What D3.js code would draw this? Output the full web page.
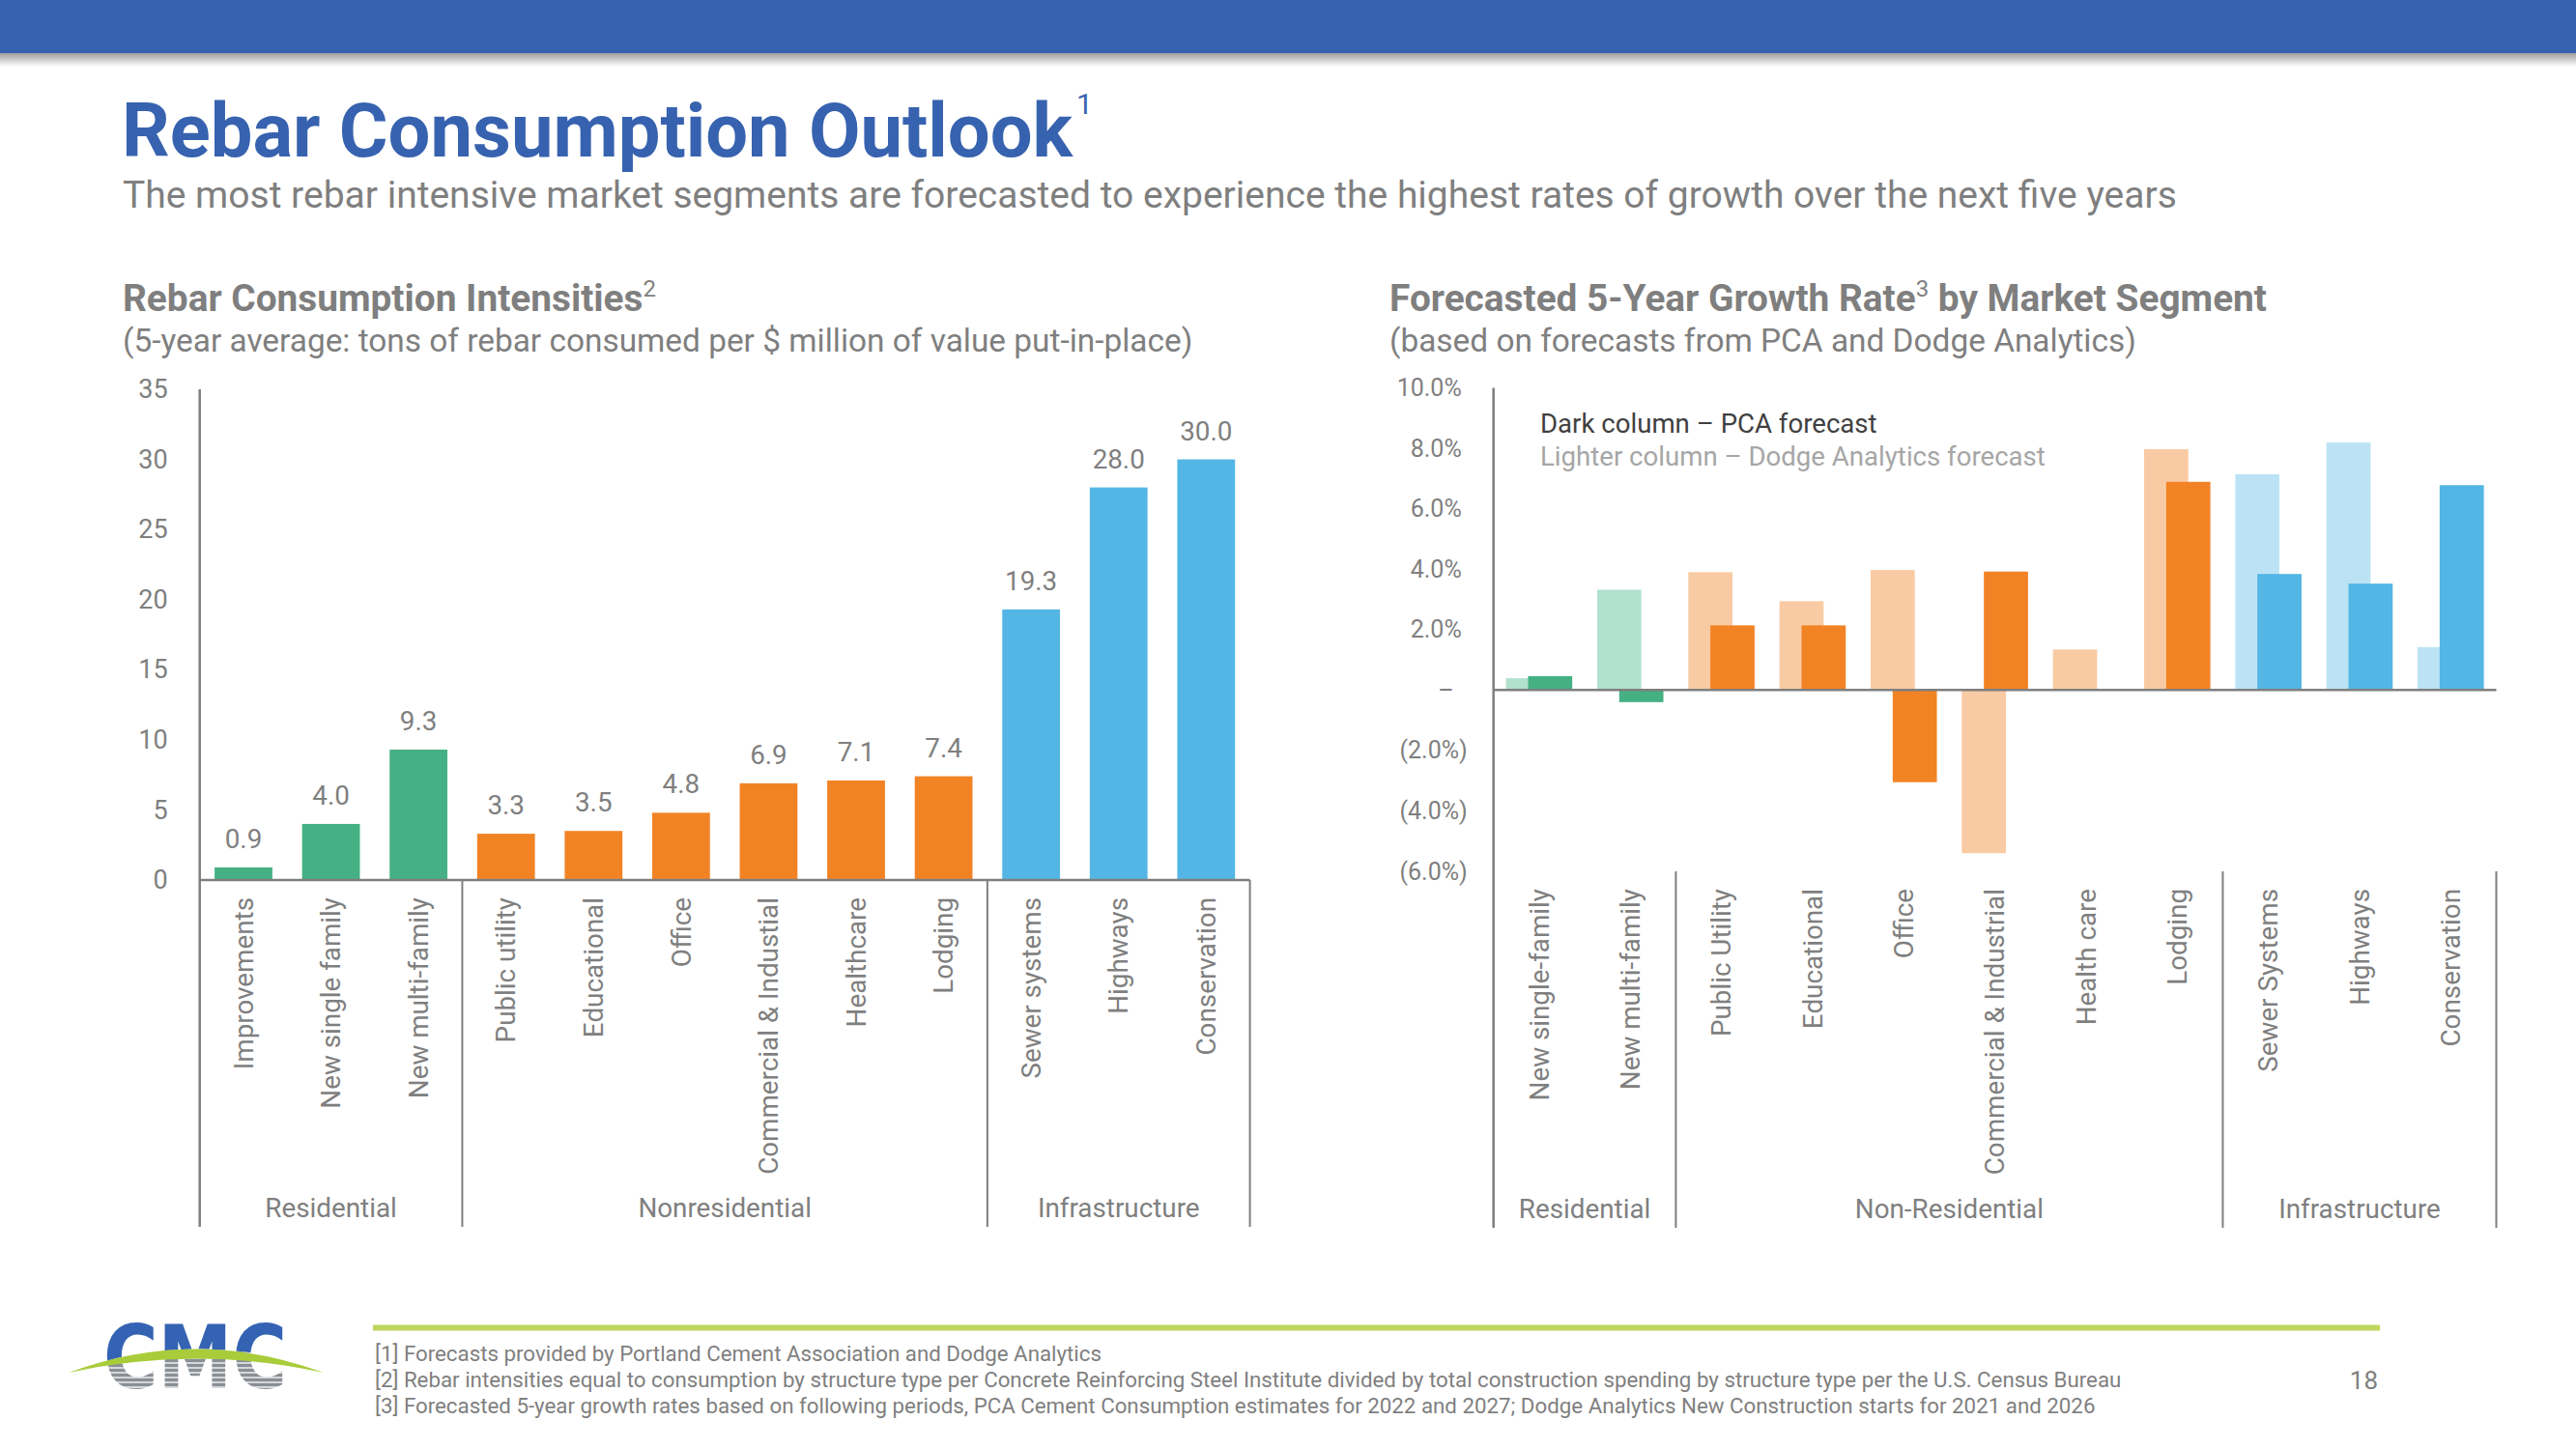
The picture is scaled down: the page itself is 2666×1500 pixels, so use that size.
<!DOCTYPE html>
<html>
<head>
<meta charset="utf-8">
<script src="https://cdn.jsdelivr.net/npm/d3@7"></script>
<style>
  html, body { margin: 0; padding: 0; background: #fff; }
  svg { display: block; font-family: Roboto, "Open Sans", sans-serif; }
</style>
</head>
<body>
<svg id="chart" width="2666" height="1500"></svg>
<script>
// ---------------- DATA ----------------
const leftCategories = ["Improvements", "New single family", "New multi-family", "Public utility", "Educational", "Office", "Commercial & Industial", "Healthcare", "Lodging", "Sewer systems", "Highways", "Conservation"];
const leftCategoryGroups = ["Residential", "Residential", "Residential", "Nonresidential", "Nonresidential", "Nonresidential", "Nonresidential", "Nonresidential", "Nonresidential", "Infrastructure", "Infrastructure", "Infrastructure"];
const leftGroupNames = ["Residential", "Nonresidential", "Infrastructure"];
const leftValues = [0.9, 4.0, 9.3, 3.3, 3.5, 4.8, 6.9, 7.1, 7.4, 19.3, 28.0, 30.0];
const leftYTicks = [0, 5, 10, 15, 20, 25, 30, 35];

const rightCategories = ["New single-family", "New multi-family", "Public Utility", "Educational", "Office", "Commercial & Industrial", "Health care", "Lodging", "Sewer Systems", "Highways", "Conservation"];
const rightCategoryGroups = ["Residential", "Residential", "Non-Residential", "Non-Residential", "Non-Residential", "Non-Residential", "Non-Residential", "Non-Residential", "Infrastructure", "Infrastructure", "Infrastructure"];
const rightGroupNames = ["Residential", "Non-Residential", "Infrastructure"];
const dodgeValues = [0.39, 3.32, 3.90, 2.94, 3.97, -5.40, 1.34, 7.97, 7.14, 8.19, 1.42];   // lighter column
const pcaValues   = [0.46, -0.40, 2.14, 2.14, -3.05, 3.92, 0.00, 6.89, 3.84, 3.52, 6.78]; // dark column
const rightYTicks = [-6, -4, -2, 0, 2, 4, 6, 8, 10];

const footnotes = [
  "[1] Forecasts provided by Portland Cement Association and Dodge Analytics",
  "[2] Rebar intensities equal to consumption by structure type per Concrete Reinforcing Steel Institute divided by total construction spending by structure type per the U.S. Census Bureau",
  "[3] Forecasted 5-year growth rates based on following periods, PCA Cement Consumption estimates for 2022 and 2027; Dodge Analytics New Construction starts for 2021 and 2026"
];

// ---------------- STYLE ----------------
const BLUE_HEAD = "#3762AF";
const GREY = "#7F7F7F";
const LABEL_SIZE = 27.8;
const darkColor  = { "Residential": "#45B083", "Nonresidential": "#F28325", "Non-Residential": "#F28325", "Infrastructure": "#53B6E5" };
const lightColor = { "Residential": "#B2E1CD", "Nonresidential": "#F9CBA4", "Non-Residential": "#F9CBA4", "Infrastructure": "#BCE3F5" };

const svg = d3.select("#chart");
const defs = svg.append("defs");

// ---------------- HEADER ----------------
const shadow = defs.append("linearGradient").attr("id", "hdrShadow").attr("x1", 0).attr("y1", 0).attr("x2", 0).attr("y2", 1);
shadow.append("stop").attr("offset", "0%").attr("stop-color", "#000").attr("stop-opacity", 0.38);
shadow.append("stop").attr("offset", "100%").attr("stop-color", "#000").attr("stop-opacity", 0);
svg.append("rect").attr("x", 0).attr("y", 55).attr("width", 2666).attr("height", 14).attr("fill", "url(#hdrShadow)");
svg.append("rect").attr("x", 0).attr("y", 0).attr("width", 2666).attr("height", 55).attr("fill", BLUE_HEAD);

const title = svg.append("text").attr("x", 126).attr("y", 162)
  .attr("font-size", 77.7).attr("font-weight", 700).attr("fill", BLUE_HEAD);
title.append("tspan").text("Rebar Consumption Outlook");
title.append("tspan").attr("font-size", 30).attr("font-weight", 400).attr("dx", 4).attr("dy", -44).text("1");

svg.append("text").attr("x", 127).attr("y", 215).attr("font-size", 39).attr("fill", GREY)
  .text("The most rebar intensive market segments are forecasted to experience the highest rates of growth over the next five years");

function chartTitle(x, main, sup, rest, sub) {
  const t = svg.append("text").attr("x", x).attr("y", 322).attr("font-size", 38.8).attr("font-weight", 700).attr("fill", GREY);
  t.append("tspan").text(main);
  t.append("tspan").attr("font-size", 24).attr("font-weight", 400).attr("dy", -15).text(sup);
  if (rest) t.append("tspan").attr("dy", 15).text(rest);
  svg.append("text").attr("x", x).attr("y", 364).attr("font-size", 33.4).attr("fill", GREY).text(sub);
}
chartTitle(127, "Rebar Consumption Intensities", "2", null, "(5-year average: tons of rebar consumed per $ million of value put-in-place)");
chartTitle(1438, "Forecasted 5-Year Growth Rate", "3", " by Market Segment", "(based on forecasts from PCA and Dodge Analytics)");

// ---------------- LEFT CHART ----------------
const L = { x0: 206.7, x1: 1293.6, yTop: 403, yZero: 911, yBottom: 1270 };
const xL = d3.scaleBand().domain(leftCategories).range([L.x0, L.x1]).paddingInner(0.34).paddingOuter(0.17);
const yL = d3.scaleLinear().domain([0, 35]).range([L.yZero, L.yTop]);
const gL = svg.append("g");

gL.selectAll("rect.bar").data(leftCategories).join("rect")
  .attr("class", "bar")
  .attr("x", d => xL(d)).attr("width", xL.bandwidth())
  .attr("y", (d, i) => yL(leftValues[i])).attr("height", (d, i) => yL(0) - yL(leftValues[i]))
  .attr("fill", (d, i) => darkColor[leftCategoryGroups[i]]);

gL.selectAll("text.val").data(leftCategories).join("text")
  .attr("class", "val")
  .attr("x", d => xL(d) + xL.bandwidth() / 2)
  .attr("y", (d, i) => yL(leftValues[i]) - 20)
  .attr("text-anchor", "middle").attr("font-size", 27.8).attr("fill", GREY)
  .text((d, i) => leftValues[i].toFixed(1));

const axL = gL.append("g").attr("transform", `translate(${L.x0},0)`)
  .call(d3.axisLeft(yL).tickValues(leftYTicks).tickSize(0).tickPadding(33).tickFormat(d3.format("d")));
axL.select(".domain").remove();
axL.selectAll("text").attr("font-size", 27).attr("fill", GREY).attr("font-family", "Roboto");

// axis lines
gL.append("line").attr("x1", L.x0).attr("x2", L.x0).attr("y1", yL(35)).attr("y2", L.yBottom).attr("stroke", GREY).attr("stroke-width", 2.5);
gL.append("line").attr("x1", L.x0).attr("x2", L.x1).attr("y1", L.yZero).attr("y2", L.yZero).attr("stroke", GREY).attr("stroke-width", 2.5);

function slotStart(scale, cat) { return scale(cat) - (scale.step() - scale.bandwidth()) / 2; }
function groupBounds(scale, cats, groupsOf, names) {
  return names.map(n => {
    const members = cats.filter((c, i) => groupsOf[i] === n);
    const s = slotStart(scale, members[0]);
    const e = slotStart(scale, members[members.length - 1]) + scale.step();
    return { name: n, start: s, end: e };
  });
}
const lGroups = groupBounds(xL, leftCategories, leftCategoryGroups, leftGroupNames);
gL.selectAll("line.sep").data(lGroups).join("line").attr("class", "sep")
  .attr("x1", d => d.end).attr("x2", d => d.end).attr("y1", L.yZero).attr("y2", L.yBottom)
  .attr("stroke", GREY).attr("stroke-width", 2);
gL.selectAll("text.grp").data(lGroups).join("text").attr("class", "grp")
  .attr("x", d => (d.start + d.end) / 2).attr("y", 1260).attr("text-anchor", "middle")
  .attr("font-size", LABEL_SIZE).attr("fill", GREY).text(d => d.name);
gL.selectAll("text.cat").data(leftCategories).join("text").attr("class", "cat")
  .attr("transform", d => `translate(${xL(d) + xL.bandwidth() / 2},929) rotate(-90)`)
  .attr("text-anchor", "end").attr("dy", "0.35em").attr("font-size", LABEL_SIZE).attr("fill", GREY).text(d => d);

// ---------------- RIGHT CHART ----------------
const R = { x0: 1545.7, x1: 2583.5, yTop: 401.5, yBottomTick: 902, yBottom: 1271 };
const xR = d3.scaleBand().domain(rightCategories).range([R.x0, R.x1]).paddingInner(0.273).paddingOuter(0.1365);
const yR = d3.scaleLinear().domain([-6, 10]).range([R.yBottomTick, R.yTop]);
const gR = svg.append("g");
const bw = xR.bandwidth();

gR.selectAll("rect.light").data(rightCategories).join("rect").attr("class", "light")
  .attr("x", d => xR(d)).attr("width", bw * 2 / 3)
  .attr("y", (d, i) => yR(Math.max(0, dodgeValues[i])))
  .attr("height", (d, i) => Math.abs(yR(dodgeValues[i]) - yR(0)))
  .attr("fill", (d, i) => lightColor[rightCategoryGroups[i]]);
gR.selectAll("rect.dark").data(rightCategories).join("rect").attr("class", "dark")
  .attr("x", d => xR(d) + bw / 3).attr("width", bw * 2 / 3)
  .attr("y", (d, i) => yR(Math.max(0, pcaValues[i])))
  .attr("height", (d, i) => Math.abs(yR(pcaValues[i]) - yR(0)))
  .attr("fill", (d, i) => darkColor[rightCategoryGroups[i]]);

const fmtPct = v => v === 0 ? "–" : (v < 0 ? `(${Math.abs(v).toFixed(1)}%)` : `${v.toFixed(1)}%`);
const axR = gR.append("g").attr("transform", `translate(${R.x0},0)`)
  .call(d3.axisLeft(yR).tickValues(rightYTicks).tickSize(0).tickPadding(27).tickFormat(fmtPct));
axR.select(".domain").remove();
axR.selectAll("text").attr("font-size", 25).attr("fill", GREY).attr("font-family", "Roboto")
  .attr("dx", d => d > 0 ? -6 : (d === 0 ? -14 : 0));

gR.append("line").attr("x1", R.x0).attr("x2", R.x0).attr("y1", R.yTop).attr("y2", R.yBottom).attr("stroke", GREY).attr("stroke-width", 2.5);
gR.append("line").attr("x1", R.x0).attr("x2", R.x1).attr("y1", yR(0)).attr("y2", yR(0)).attr("stroke", GREY).attr("stroke-width", 2.5);

const rGroups = groupBounds(xR, rightCategories, rightCategoryGroups, rightGroupNames);
gR.selectAll("line.sep").data(rGroups).join("line").attr("class", "sep")
  .attr("x1", d => d.end).attr("x2", d => d.end).attr("y1", R.yBottomTick).attr("y2", R.yBottom)
  .attr("stroke", GREY).attr("stroke-width", 2);
gR.selectAll("text.grp").data(rGroups).join("text").attr("class", "grp")
  .attr("x", d => (d.start + d.end) / 2).attr("y", 1261).attr("text-anchor", "middle")
  .attr("font-size", LABEL_SIZE).attr("fill", GREY).text(d => d.name);
gR.selectAll("text.cat").data(rightCategories).join("text").attr("class", "cat")
  .attr("transform", d => `translate(${xR(d) + bw / 2},920) rotate(-90)`)
  .attr("text-anchor", "end").attr("dy", "0.35em").attr("font-size", LABEL_SIZE).attr("fill", GREY).text(d => d);

// legend notes
gR.append("text").attr("x", 1594).attr("y", 448).attr("font-size", 27.6).attr("fill", "#404040").text("Dark column – PCA forecast");
gR.append("text").attr("x", 1594).attr("y", 482).attr("font-size", 27.6).attr("fill", "#A6A6A6").text("Lighter column – Dodge Analytics forecast");

// ---------------- FOOTER ----------------
svg.append("rect").attr("x", 386).attr("y", 1371.5).attr("width", 2077).attr("height", 6).attr("fill", "#BED65E");
svg.selectAll("text.fn").data(footnotes).join("text").attr("class", "fn")
  .attr("x", 388).attr("y", (d, i) => 1409 + i * 27).attr("font-size", 22.3).attr("fill", GREY).text(d => d);
svg.append("text").attr("x", 2461).attr("y", 1438).attr("text-anchor", "end").attr("font-size", 26).attr("fill", GREY).text("18");

// logo
const stripes = defs.append("pattern").attr("id", "stripes").attr("patternUnits", "userSpaceOnUse").attr("width", 10).attr("height", 5);
stripes.append("rect").attr("width", 10).attr("height", 5).attr("fill", "#8A8F96");
stripes.append("rect").attr("width", 10).attr("height", 2).attr("fill", "#D4D7DB");
defs.append("clipPath").attr("id", "logoTop").append("path").attr("d", "M60,1360 L345,1360 L345,1421 Q203,1372 71,1421 L60,1421 Z");
defs.append("clipPath").attr("id", "logoBot").append("path").attr("d", "M60,1500 L345,1500 L345,1421 Q203,1372 71,1421 L60,1421 Z");
const logoText = (fill, clip) => svg.append("text").attr("x", 107).attr("y", 1437)
  .attr("font-family", "'DejaVu Sans', sans-serif").attr("font-weight", 700).attr("font-size", 90)
  .attr("textLength", 190).attr("lengthAdjust", "spacingAndGlyphs")
  .attr("fill", fill).attr("clip-path", `url(#${clip})`).text("CMC");
logoText("#3563B3", "logoTop");
logoText("url(#stripes)", "logoBot");
svg.append("path").attr("d", "M71,1421 Q203,1372 335,1421 Q203,1392 71,1421 Z").attr("fill", "#A8CC3A");
</script>
</body>
</html>
